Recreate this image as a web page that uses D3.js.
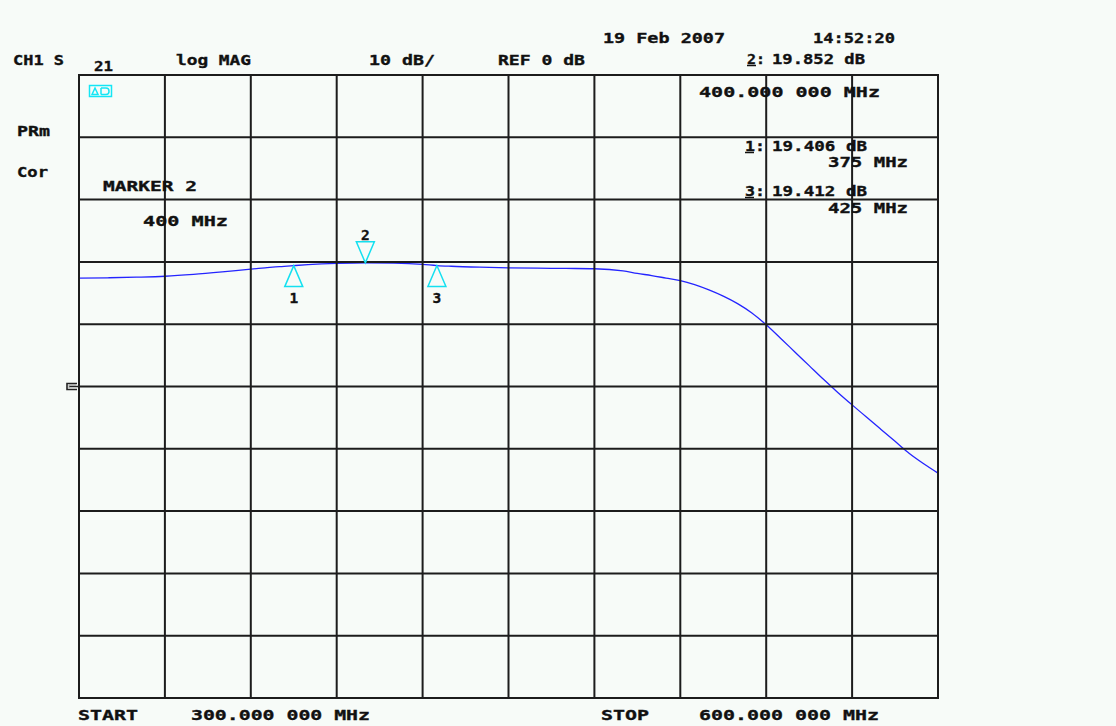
<!DOCTYPE html>
<html>
<head>
<meta charset="utf-8">
<script src="https://cdn.jsdelivr.net/npm/d3@7/dist/d3.min.js"></script>
<style>
  html, body { margin: 0; padding: 0; background: #f7fbf8; }
  svg { display: block; }
  text { font-family: "DejaVu Sans Mono", "Liberation Mono", monospace; font-weight: bold; font-size: 14.5px; fill: #111; stroke: #111; stroke-width: 0.35px; }
</style>
</head>
<body>
<svg id="chart" width="1116" height="726"></svg>
<script>
// ---------- data ----------
const freqMHz = [300, 310, 320, 330, 340, 350, 360, 365, 370, 375, 380, 390, 400, 410, 420, 425, 430, 440, 450, 460, 470, 480, 490, 495, 500, 505, 510, 515, 520, 525, 530, 535, 540, 545, 550, 555, 560, 565, 570, 575, 580, 585, 590, 595, 600];
const magDB   = [17.4, 17.45, 17.55, 17.7, 18.0, 18.4, 18.85, 19.05, 19.25, 19.406, 19.55, 19.75, 19.852, 19.8, 19.6, 19.412, 19.3, 19.15, 19.05, 19.0, 18.95, 18.9, 18.55, 18.15, 17.8, 17.4, 17.0, 16.35, 15.5, 14.5, 13.3, 11.8, 9.9, 7.75, 5.55, 3.35, 1.15, -0.95, -2.95, -4.9, -6.85, -8.8, -10.75, -12.4, -13.9];

const markerLabels = ["1", "2", "3"];
const markerFreq   = [375, 400, 425];
const markerDB     = [19.406, 19.852, 19.412];

const xTicks = d3.range(300, 601, 30);   // 30 MHz / div
const yTicks = d3.range(-50, 51, 10);    // 10 dB / div, REF 0 dB at centre

const headerTexts = ["CH1 S", "21", "log MAG", "10 dB/", "REF 0 dB", "19 Feb 2007", "14:52:20"];
const sideTexts   = ["PRm", "Cor", "MARKER 2", "400 MHz"];
const readoutTexts = ["2:", "19.852 dB", "400.000 000 MHz", "1:", "19.406 dB", "375 MHz", "3:", "19.412 dB", "425 MHz"];
const footerTexts = ["START", "300.000 000 MHz", "STOP", "600.000 000 MHz"];

// ---------- layout ----------
const svg = d3.select("#chart");
const x = d3.scaleLinear().domain([300, 600]).range([79, 938]);
const y = d3.scaleLinear().domain([-50, 50]).range([698, 75]);

svg.append("rect").attr("width", 1116).attr("height", 726).attr("fill", "#f7fbf8");

// trace (drawn under grid)
const line = d3.line().x((d, i) => x(freqMHz[i])).y(d => y(d)).curve(d3.curveMonotoneX);
svg.append("path")
  .datum(magDB)
  .attr("d", line)
  .attr("fill", "none")
  .attr("stroke", "#2424ff")
  .attr("stroke-width", 1.3);

// grid
const grid = svg.append("g").attr("stroke", "#1c1c1c").attr("stroke-width", 2);
grid.selectAll("line.v").data(xTicks).join("line")
  .attr("x1", d => x(d)).attr("x2", d => x(d))
  .attr("y1", y(50)).attr("y2", y(-50));
grid.selectAll("line.h").data(yTicks).join("line")
  .attr("y1", d => y(d)).attr("y2", d => y(d))
  .attr("x1", x(300) - 1).attr("x2", x(600) + 1);

// reference position marker at left
const refY = y(0);
svg.append("path")
  .attr("d", `M77,${refY - 3} H67 V${refY + 3} H77 M69,${refY} H${x(300)}`)
  .attr("fill", "none").attr("stroke", "#222").attr("stroke-width", 1.6);
svg.append("path")
  .attr("d", `M76,${refY - 1.5} H69 V${refY + 1.5}`)
  .attr("fill", "none").attr("stroke", "#999").attr("stroke-width", 1);

// cyan status icon
const icon = svg.append("g").attr("stroke", "#14e6f5").attr("fill", "none").attr("stroke-width", 1.5);
icon.append("rect").attr("x", 89.5).attr("y", 85.5).attr("width", 22).attr("height", 11);
icon.append("path").attr("d", "M92,94.5 L95,88 L98,94.5 Z M101,88 V94.5 M101,88 H106 Q109,88 109,91.2 Q109,94.5 106,94.5 H101");

// markers
const cyan = "#14e0f0";
markerLabels.forEach((lab, i) => {
  const mx = x(markerFreq[i]);
  const my = y(markerDB[i]);
  const up = lab !== "2";
  const h = 21, w = 9;
  const pts = up
    ? `M${mx},${my} L${mx - w},${my + h} L${mx + w},${my + h} Z`
    : `M${mx},${my} L${mx - w},${my - h} L${mx + w},${my - h} Z`;
  svg.append("path").attr("d", pts).attr("fill", "none").attr("stroke", cyan).attr("stroke-width", 1.5);
  svg.append("text")
    .attr("x", mx).attr("y", up ? my + h + 16 : my - h - 2)
    .attr("text-anchor", "middle")
    .text(lab);
});

// text helper
function txt(str, tx, ty, w) {
  svg.append("text").attr("x", tx).attr("y", ty)
    .attr("textLength", w).attr("lengthAdjust", "spacingAndGlyphs")
    .text(str);
}

// header
const headerPos = [[13, 65, 51], [94, 71, 19], [176, 65, 75], [369, 65, 66], [498, 65, 87], [603, 43, 122], [813, 43, 82]];
headerTexts.forEach((s, i) => txt(s, ...headerPos[i]));

// side annotations
const sidePos = [[17, 136, 33], [17, 177, 31], [103, 191, 94], [143, 226, 85]];
sideTexts.forEach((s, i) => txt(s, ...sidePos[i]));

// marker readouts
const readPos = [[747, 64, 18], [772, 64, 93], [699, 97, 181],
                 [745, 151, 20], [772, 151, 95], [828, 167, 80],
                 [745, 196, 20], [772, 196, 95], [828, 213, 80]];
readoutTexts.forEach((s, i) => txt(s, ...readPos[i]));
// underline the marker numbers
[[747, 65.5], [745, 152.5], [745, 197.5]].forEach(([ux, uy]) => {
  svg.append("line").attr("x1", ux).attr("x2", ux + 9).attr("y1", uy).attr("y2", uy)
    .attr("stroke", "#111").attr("stroke-width", 1.5);
});

// footer
const footPos = [[78, 720, 60], [191, 720, 179], [601, 720, 48], [699, 720, 180]];
footerTexts.forEach((s, i) => txt(s, ...footPos[i]));
</script>
</body>
</html>
